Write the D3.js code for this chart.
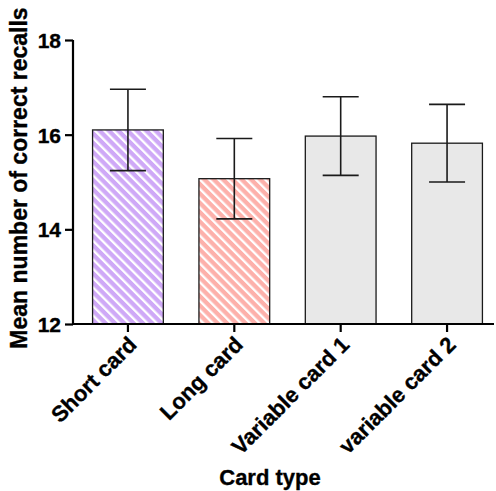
<!DOCTYPE html>
<html><head><meta charset="utf-8">
<script src="https://cdn.jsdelivr.net/npm/d3@7"></script>
<style>body{margin:0;background:#fff}svg{display:block}text{font-family:"Liberation Sans",Arial,sans-serif;font-weight:bold;fill:#000;stroke:#000;stroke-width:0.35px}</style>
</head><body><div id="chart"></div>
<script>
const categories = ["Short card", "Long card", "Variable card 1", "variable card 2"];
const means = [16.1, 15.07, 15.97, 15.82];
const errors = [0.86, 0.85, 0.83, 0.82];
const fills = ["#cfa9f7", "#fdb1ab", "#e8e8e8", "#e8e8e8"];
const hatched = [true, true, false, false];
const yTicks = [12, 14, 16, 18];
const yTitle = "Mean number of correct recalls";
const xTitle = "Card type";

const W = 496, H = 491;
const svg = d3.select("#chart").append("svg").attr("width", W).attr("height", H);
const defs = svg.append("defs");
fills.forEach((c, i) => {
  if (!hatched[i]) return;
  const p = defs.append("pattern").attr("id", "hatch" + i).attr("patternUnits", "userSpaceOnUse")
    .attr("width", 6.6).attr("height", 6.6).attr("patternTransform", "rotate(-45)");
  p.append("rect").attr("width", 6.6).attr("height", 6.6).attr("fill", c);
  p.append("rect").attr("x", 0).attr("width", 2.3).attr("height", 6.6).attr("fill", "#fff");
});

const x0 = 73, x1 = 494;
const y = d3.scaleLinear().domain([12, 18]).range([324, 40]);
const x = d3.scaleBand().domain(categories).range([73, 502]).paddingInner(0.335).paddingOuter(0.184);

const g = svg.append("g");
g.selectAll("rect.bar").data(categories).join("rect").attr("class", "bar")
  .attr("x", d => x(d)).attr("width", x.bandwidth())
  .attr("y", (d, i) => y(means[i])).attr("height", (d, i) => y(12) - y(means[i]))
  .attr("fill", (d, i) => hatched[i] ? `url(#hatch${i})` : fills[i])
  .attr("stroke", "#1a1a1a").attr("stroke-width", 1.3);

const cap = 18;
categories.forEach((c, i) => {
  const cx = x(c) + x.bandwidth() / 2;
  const top = y(means[i] + errors[i]), bot = y(means[i] - errors[i]);
  const eg = g.append("g").attr("stroke", "#1a1a1a").attr("stroke-width", 1.6);
  eg.append("line").attr("x1", cx).attr("x2", cx).attr("y1", top).attr("y2", bot);
  eg.append("line").attr("x1", cx - cap).attr("x2", cx + cap).attr("y1", top).attr("y2", top);
  eg.append("line").attr("x1", cx - cap).attr("x2", cx + cap).attr("y1", bot).attr("y2", bot);
});

// y axis
const ya = svg.append("g").attr("transform", `translate(${x0},0)`)
  .call(d3.axisLeft(y).tickValues(yTicks).tickSize(8).tickPadding(4).tickFormat(d3.format("d")));
ya.select(".domain").attr("stroke", "#000").attr("stroke-width", 2.2).attr("d", `M0,${y(18)}V${y(12)}`);
ya.selectAll(".tick line").attr("stroke", "#000").attr("stroke-width", 2.2);
ya.selectAll(".tick text").style("font-size", "21px").style("font-family", '"Liberation Sans",Arial,sans-serif').style("font-weight", "bold").attr("dy", "0.36em");

// x axis
const xa = svg.append("g").attr("transform", `translate(0,${y(12)})`)
  .call(d3.axisBottom(x).tickSize(8).tickFormat(""));
xa.select(".domain").attr("stroke", "#000").attr("stroke-width", 2.2).attr("d", `M${x0 - 1},0H${x1}`);
xa.selectAll(".tick line").attr("stroke", "#000").attr("stroke-width", 2.2);

categories.forEach(c => {
  const cx = x(c) + x.bandwidth() / 2;
  svg.append("text").attr("text-anchor", "end")
    .attr("transform", `translate(${cx + 10},${y(12) + 22}) rotate(-45)`)
    .style("font-size", "22px").text(c);
});

svg.append("text").attr("text-anchor", "middle").attr("x", 270).attr("y", 485)
  .style("font-size", "22px").text(xTitle);
svg.append("text").attr("text-anchor", "middle")
  .attr("transform", `translate(27,${(y(12) + y(18)) / 2 - 4}) rotate(-90)`)
  .style("font-size", "23px").text(yTitle);
</script></body></html>
